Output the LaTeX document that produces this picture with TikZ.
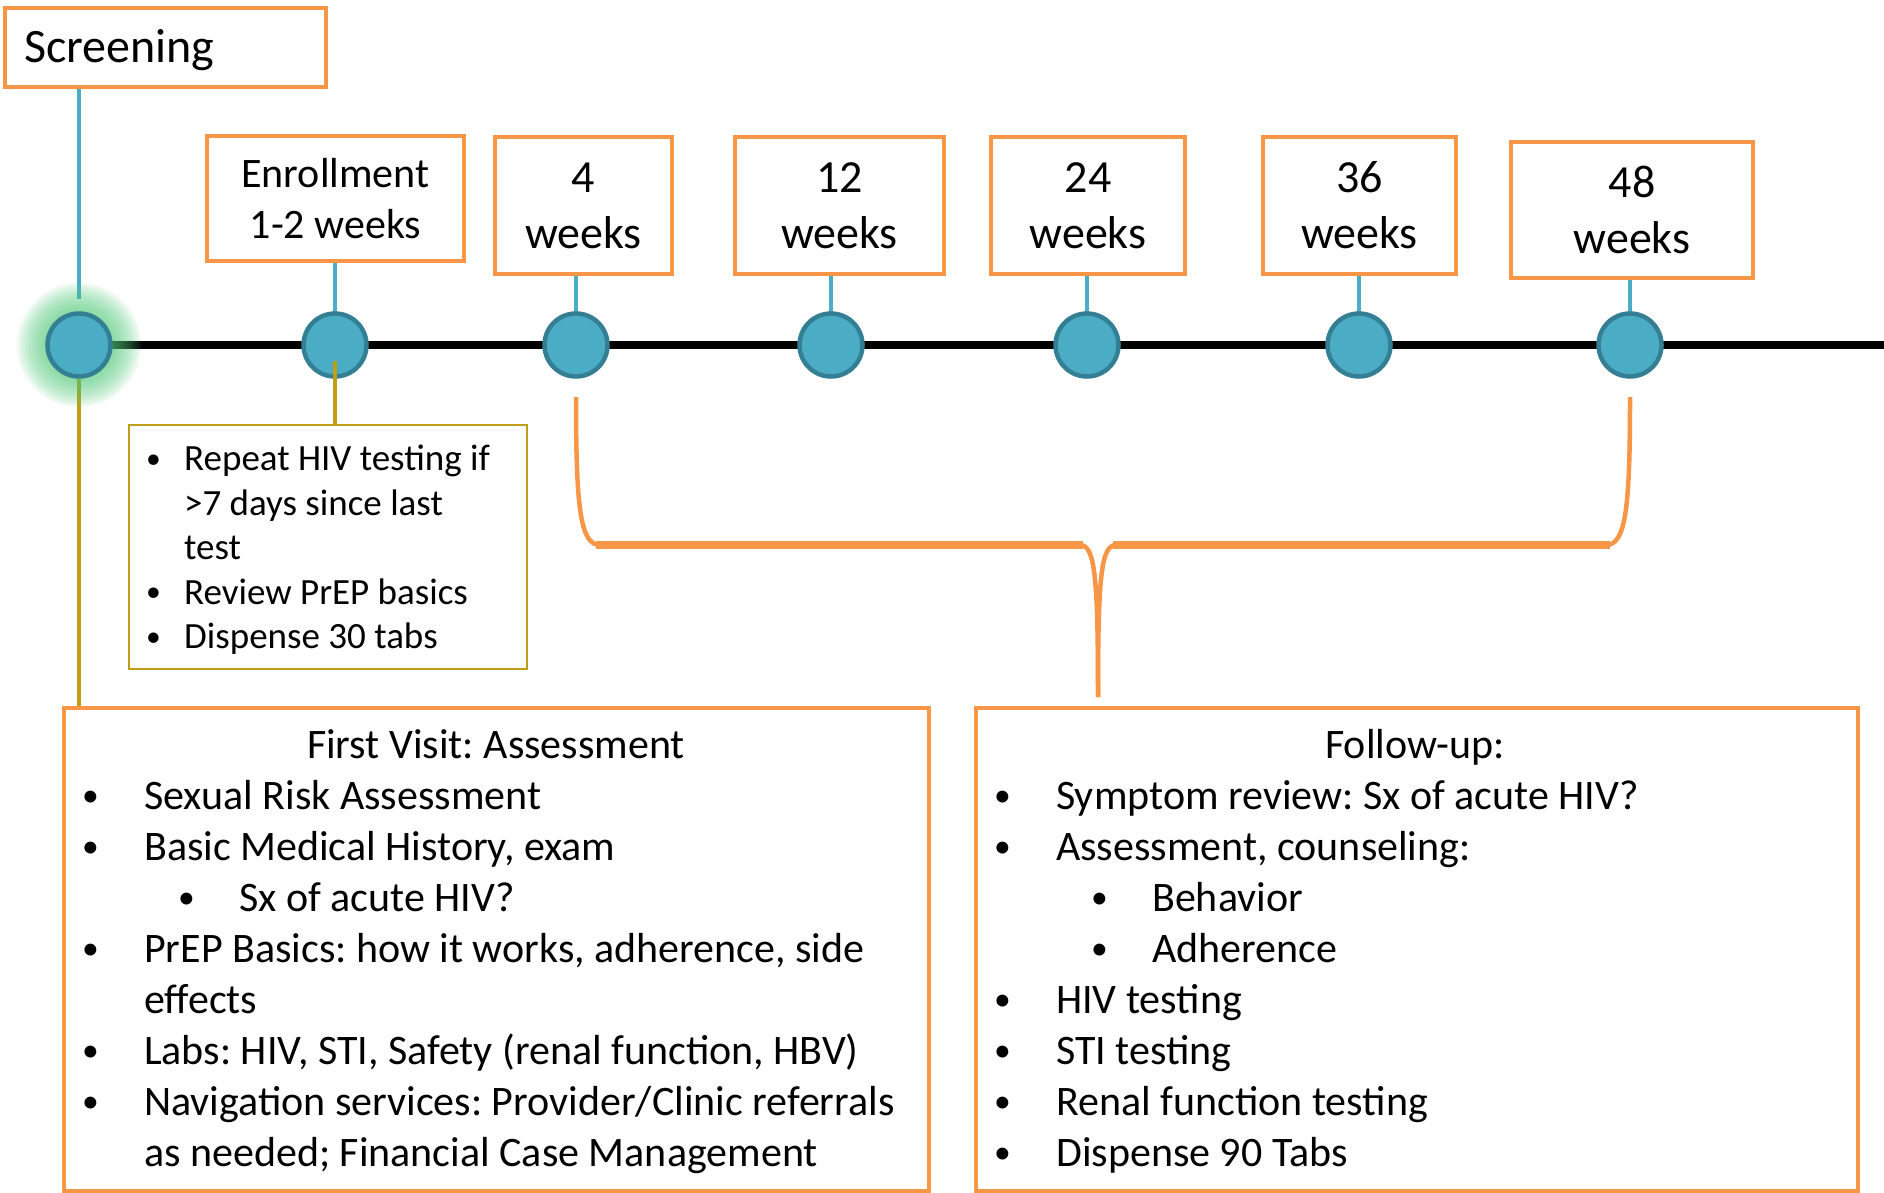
\documentclass[tikz,border=0pt]{standalone}
\usepackage{fontspec}
\usepackage{graphicx}
\setmainfont{Carlito}
\usetikzlibrary{calc}
\pgfdeclarelayer{bg}
\pgfdeclarelayer{glowl}
\pgfsetlayers{bg,glowl,main}
\definecolor{porange}{HTML}{F79646}
\definecolor{pblue}{HTML}{4BACC6}
\definecolor{pblued}{HTML}{357F94}
\definecolor{polive}{HTML}{BF9F17}
\definecolor{pglow}{RGB}{80,200,120}
\newcommand{\pbullet}[2]{\makebox[#1][l]{\hspace*{#2}\raisebox{2.5pt}{\scalebox{0.8}{\textbullet}}}}
\frenchspacing
\begin{document}
\frenchspacing
\begin{tikzpicture}[x=1pt,y=-1pt,
  obox/.style={draw=porange,line width=4.5pt,fill=white,inner sep=0pt},
  wkbox/.style={obox,minimum height=137pt,align=center,font=\fontsize{46}{56}\selectfont},
  dot/.style={circle,fill=pblue,draw=pblued,line width=4.5pt,minimum size=63pt,inner sep=0pt},
  bluelink/.style={pblue,line width=4pt},
  olivelink/.style={polive,line width=4pt},
  timeline/.style={black,line width=8pt},
  bracestroke/.style={porange,line width=4.5pt},
  bandstroke/.style={porange,line width=8pt},
  lst/.style={anchor=north west,inner sep=0pt,align=left},
  bigfont/.style={font=\fontsize{42}{51}\selectfont\frenchspacing},
  smallfont/.style={font=\fontsize{37}{44.5}\selectfont\frenchspacing}]
\useasboundingbox (0,0) rectangle (1884,1193);

% top boxes
\node[obox,minimum width=321pt,minimum height=79pt] (screen) at (165.5,47.5) {};
\node[anchor=base west,inner sep=0pt,font=\fontsize{48}{58}\selectfont] (screentxt) at (24,63) {Screening};
\node[obox,minimum width=257pt,minimum height=125pt,align=center,bigfont] (enroll) at (335.5,198.5) {Enrollment\\1-2 weeks};
\node[wkbox,minimum width=177pt] (w4) at (583.5,205.5) {4\\weeks};
\node[wkbox,minimum width=209pt] (w12) at (839.5,205.5) {12\\weeks};
\node[wkbox,minimum width=194pt] (w24) at (1088,205.5) {24\\weeks};
\node[wkbox,minimum width=193pt] (w36) at (1359.5,205.5) {36\\weeks};
\node[wkbox,minimum width=242pt,minimum height=136pt] (w48) at (1632,210) {48\\weeks};

% timeline circles
\node[dot] (c0) at (79,345) {};
\node[dot] (c1) at (335,345) {};
\node[dot] (c2) at (576,345) {};
\node[dot] (c3) at (831,345) {};
\node[dot] (c4) at (1087,345) {};
\node[dot] (c5) at (1359,345) {};
\node[dot] (c6) at (1630,345) {};
\coordinate (tend) at (1884,345);

% yellow box
\node[draw=polive,line width=2.5pt,fill=white,minimum width=398pt,minimum height=244pt,inner sep=0pt] (ybox) at (328,547) {};
\node[lst,smallfont] (ylist) at (154,439.35) {%
\strut\pbullet{30pt}{-8pt}Repeat HIV testing if\\
\strut\hspace*{30pt}>7 days since last\\
\strut\hspace*{30pt}test\\
\strut\pbullet{30pt}{-8pt}Review PrEP basics\\
\strut\pbullet{30pt}{-8pt}Dispense 30 tabs};

% first visit box
\node[obox,minimum width=865pt,minimum height=483pt] (fvbox) at (496.5,949.5) {};
\node[anchor=base,inner sep=0pt,bigfont] (fvtitle) at (496,758) {First Visit: Assessment};
\node[lst,bigfont] (fvlist) at (90,773.3) {%
\strut\pbullet{54pt}{-8pt}Sexual Risk Assessment\\
\strut\pbullet{54pt}{-8pt}Basic Medical History, exam\\
\strut\hspace*{96pt}\pbullet{53pt}{-8pt}Sx of acute HIV?\\
\strut\pbullet{54pt}{-8pt}PrEP Basics: how it works, adherence, side\\
\strut\hspace*{54pt}effects\\
\strut\pbullet{54pt}{-8pt}Labs: HIV, STI, Safety (renal function, HBV)\\
\strut\pbullet{54pt}{-8pt}Navigation services: Provider/Clinic referrals\\
\strut\hspace*{54pt}as needed; Financial Case Management};

% follow-up box
\node[obox,minimum width=882pt,minimum height=483pt] (fubox) at (1417,949.5) {};
\node[anchor=base,inner sep=0pt,bigfont] (futitle) at (1415,758) {Follow-up:};
\node[lst,bigfont] (fulist) at (1002,773.3) {%
\strut\pbullet{54pt}{-8pt}Symptom review: Sx of acute HIV?\\
\strut\pbullet{54pt}{-8pt}Assessment, counseling:\\
\strut\hspace*{97pt}\pbullet{53pt}{-8pt}Behavior\\
\strut\hspace*{97pt}\pbullet{53pt}{-8pt}Adherence\\
\strut\pbullet{54pt}{-8pt}HIV testing\\
\strut\pbullet{54pt}{-8pt}STI testing\\
\strut\pbullet{54pt}{-8pt}Renal function testing\\
\strut\pbullet{54pt}{-8pt}Dispense 90 Tabs};

% brace coordinates
\coordinate (bl) at ($(c2.center)+(0,52)$);
\coordinate (br) at ($(c6.center)+(0,52)$);
\coordinate (btip) at (1098,697);

\begin{pgfonlayer}{bg}
  \draw[timeline] (c0.center) -- (tend);
  \draw[bluelink] (screen.south -| c0) -- ($(c0.north)+(0,-12)$);
  \draw[bluelink] (enroll.south -| c1) -- (c1.center);
  \draw[bluelink] (w4.south -| c2) -- (c2.center);
  \draw[bluelink] (w12.south -| c3) -- (c3.center);
  \draw[bluelink] (w24.south -| c4) -- (c4.center);
  \draw[bluelink] (w36.south -| c5) -- (c5.center);
  \draw[bluelink] (w48.south -| c6) -- (c6.center);
  \draw[olivelink] (c0.south) -- ($(c0 |- fvbox.north)+(0,4)$);
  % brace
  \draw[bracestroke] (bl) .. controls (576,507) and (580,545) .. (600,545) -- (1080,545) .. controls (1095,545) and (1098,577) .. (btip);
  \draw[bracestroke] (br) .. controls (1630,507) and (1626,545) .. (1606,545) -- (1116,545) .. controls (1101,545) and (1098,577) .. (btip);
  \draw[bandstroke] (596,545) -- (1083,545);
  \draw[bandstroke] (1113,545) -- (1610,545);
\end{pgfonlayer}

\begin{pgfonlayer}{glowl}
  \foreach \r in {35,38,...,62} \fill[pglow,fill opacity=0.1] (c0.center) circle[radius=\r pt];
\end{pgfonlayer}

\draw[olivelink] ($(c1.center)+(0,16)$) -- (ybox.north -| c1);
\end{tikzpicture}
\end{document}
